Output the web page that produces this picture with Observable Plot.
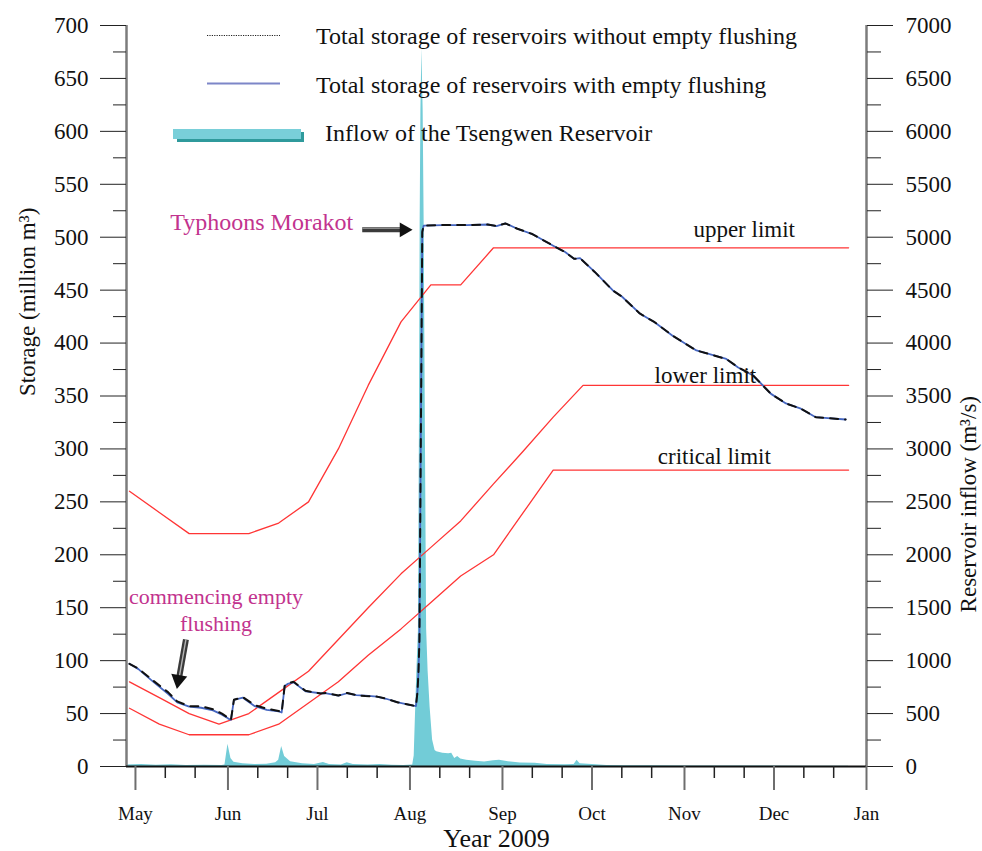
<!DOCTYPE html>
<html>
<head>
<meta charset="utf-8">
<script src="https://cdn.jsdelivr.net/npm/d3@7"></script>
<script src="https://cdn.jsdelivr.net/npm/@observablehq/plot@0.6"></script>
<style>
  html, body { margin: 0; padding: 0; background: #fff; }
  #chart { width: 982px; height: 851px; }
</style>
</head>
<body>
<div id="chart"></div>
<script>
// ---- Axis ticks -------------------------------------------------------
const storageTicks = [0, 50, 100, 150, 200, 250, 300, 350, 400, 450, 500, 550, 600, 650, 700];
const storageMinorTicks = [25, 75, 125, 175, 225, 275, 325, 375, 425, 475, 525, 575, 625, 675];
const inflowTickLabels = ["0", "500", "1000", "1500", "2000", "2500", "3000", "3500",
  "4000", "4500", "5000", "5500", "6000", "6500", "7000"];
const monthTickDates = ["2009-05-01", "2009-06-01", "2009-07-01", "2009-08-01", "2009-09-01",
  "2009-10-01", "2009-11-01", "2009-12-01", "2010-01-01"];
const monthTickLabels = ["May", "Jun", "Jul", "Aug", "Sep", "Oct", "Nov", "Dec", "Jan"];
const xDomain = ["2009-04-28", "2010-01-01"];

// ---- Rule curves (million m3), ten-day steps ---------------------------
const ruleDates = ["2009-04-29", "2009-05-09", "2009-05-19", "2009-05-29", "2009-06-08",
  "2009-06-18", "2009-06-28", "2009-07-08", "2009-07-18", "2009-07-29", "2009-08-08",
  "2009-08-18", "2009-08-29", "2009-09-08", "2009-09-18", "2009-09-28", "2009-12-26"];
const upperLimit    = [260, 240, 220, 220, 220, 230, 250, 300, 360, 420, 455, 455, 490, 490, 490, 490, 490];
const lowerLimit    = [80, 65, 50, 40, 50, 70, 90, 120, 150, 182, 207, 232, 267, 298, 330, 360, 360];
const criticalLimit = [55, 40, 30, 30, 30, 40, 60, 80, 105, 130, 155, 180, 200, 240, 280, 280, 280];

// ---- Total storage of reservoirs (million m3) ---------------------------
const storageDates = ["2009-04-29", "2009-05-02", "2009-05-07", "2009-05-12", "2009-05-15",
  "2009-05-19", "2009-05-23", "2009-05-27", "2009-05-30", "2009-06-01", "2009-06-02",
  "2009-06-03", "2009-06-06", "2009-06-10", "2009-06-14", "2009-06-18", "2009-06-19",
  "2009-06-20", "2009-06-21", "2009-06-23", "2009-06-27", "2009-07-02", "2009-07-04",
  "2009-07-08", "2009-07-11", "2009-07-14", "2009-07-17", "2009-07-21", "2009-07-24",
  "2009-07-28", "2009-08-02", "2009-08-03T00:00", "2009-08-03T12:00", "2009-08-03T20:00",
  "2009-08-04T04:00", "2009-08-05T03:00", "2009-08-05T14:00", "2009-08-12", "2009-08-20",
  "2009-08-27", "2009-08-30", "2009-09-02", "2009-09-06", "2009-09-11", "2009-09-18",
  "2009-09-22", "2009-09-25", "2009-09-27", "2009-10-02", "2009-10-08", "2009-10-11",
  "2009-10-17", "2009-10-22", "2009-10-28", "2009-11-05", "2009-11-10", "2009-11-15",
  "2009-11-19", "2009-11-24", "2009-11-30", "2009-12-05", "2009-12-10", "2009-12-15",
  "2009-12-18", "2009-12-25"];
const storageWithFlushing = [97, 92, 80, 68.5, 60.5,
  56.5, 55.5, 53, 49, 45.5, 44,
  63, 65, 57, 53.5, 52, 51,
  76, 78, 79.5, 71, 69.2, 69,
  67, 69.2, 67.5, 67, 66, 64,
  60.5, 57.6, 57, 70, 88,
  119, 505, 511, 511.5, 511.5,
  512, 510.5, 513, 508, 503, 492,
  486, 479.6, 480.2, 467, 449.7, 444,
  428, 419.7, 407, 393, 389, 385,
  377, 369.4, 352, 343, 338, 330,
  329.4, 327.8];
const storageWithoutFlushing = [97, 92.5, 81, 70, 61.5,
  57, 57, 54, 50, 46, 44,
  63, 65.5, 58, 54.5, 52.5, 51,
  76, 78.5, 80, 71.5, 69, 69.5,
  67, 69.5, 67.5, 66.5, 66, 64,
  60.5, 57.6, 57, 70, 88,
  119, 505, 511, 511.5, 511.5,
  512, 510.5, 513, 508, 503, 492,
  486, 479.6, 480.2, 467, 449.7, 444,
  428, 419.7, 407, 393, 389, 385,
  377, 369.4, 352, 343, 338, 330,
  329.4, 327.8];

// ---- Inflow of the Tsengwen Reservoir (m3/s) -----------------------------
const inflowDates = ["2009-04-28", "2009-05-03", "2009-05-08", "2009-05-13", "2009-05-18",
  "2009-05-24", "2009-05-30", "2009-05-31", "2009-06-01", "2009-06-02", "2009-06-03",
  "2009-06-06", "2009-06-10", "2009-06-14", "2009-06-17", "2009-06-18", "2009-06-19",
  "2009-06-20", "2009-06-22", "2009-06-26", "2009-06-30", "2009-07-03", "2009-07-05",
  "2009-07-09", "2009-07-11", "2009-07-13", "2009-07-18", "2009-07-22", "2009-07-26",
  "2009-07-30", "2009-08-01T22:00", "2009-08-02T10:00", "2009-08-02T18:00",
  "2009-08-03T07:00", "2009-08-03T20:00", "2009-08-04T04:00", "2009-08-04T10:00",
  "2009-08-04T16:00", "2009-08-05T00:00", "2009-08-05T10:00", "2009-08-05T18:00",
  "2009-08-06T04:00", "2009-08-06T14:00", "2009-08-07T02:00", "2009-08-07T18:00",
  "2009-08-08T14:00", "2009-08-09T10:00", "2009-08-10", "2009-08-12", "2009-08-14",
  "2009-08-15", "2009-08-16", "2009-08-17", "2009-08-18", "2009-08-20", "2009-08-23",
  "2009-08-26", "2009-08-29", "2009-08-31", "2009-09-03", "2009-09-07", "2009-09-12",
  "2009-09-16", "2009-09-22", "2009-09-25", "2009-09-26", "2009-09-27", "2009-10-01",
  "2009-10-06", "2009-10-12", "2009-10-20", "2009-11-01", "2009-11-20", "2009-12-10",
  "2009-12-26"];
const inflowValues = [15, 18, 12, 16, 10,
  12, 10, 15, 210, 75, 40,
  25, 18, 22, 35, 60, 190,
  95, 45, 25, 20, 38, 18,
  15, 35, 18, 14, 20, 12,
  10, 15, 100, 400,
  880, 1280, 3170, 5150,
  6200, 6780, 6200, 5150,
  3170, 1300, 900, 560,
  250, 150, 140, 125, 120,
  125, 75, 95, 70, 60, 50,
  42, 55, 60, 45, 32, 30,
  18, 16, 18, 60, 25, 18,
  10, 8, 6, 5, 4, 3,
  3];

// ---- Annotations ---------------------------------------------------------
const limitLabels = [
  {date: "2009-11-21", value: 507, text: "upper limit"},
  {date: "2009-11-08", value: 369, text: "lower limit"},
  {date: "2009-11-11", value: 293, text: "critical limit"}
];
const morakotNote = {date: "2009-07-13", value: 514, text: "Typhoons Morakot",
  arrowFrom: "2009-07-16", arrowTo: "2009-07-29", head: "2009-07-30", arrowValue: 507};
const flushingNote = {date: "2009-05-28", value: 149, text: "commencing empty\nflushing",
  arrowFrom: "2009-05-17T22:00", fromValue: 120, arrowTo: "2009-05-15T17:00", toValue: 85,
  head: "2009-05-15T10:00", headValue: 82};

// ---- Helpers -------------------------------------------------------------
const toDate = s => new Date(s.length === 10 ? s + "T00:00:00Z" : s + ":00Z");
const monthLabelOf = new Map(monthTickDates.map((s, i) => [+toDate(s), monthTickLabels[i]]));
const inflowLabelOf = new Map(storageTicks.map((v, i) => [v, inflowTickLabels[i]]));
const minorDayTicks = monthTickDates.slice(0, -1).flatMap(s => [s.slice(0, 8) + "11", s.slice(0, 8) + "21"]);

const rules = ruleDates.map((d, i) => ({date: toDate(d), upper: upperLimit[i], lower: lowerLimit[i], critical: criticalLimit[i]}));
const storage = storageDates.map((d, i) => ({date: toDate(d), withF: storageWithFlushing[i], withoutF: storageWithoutFlushing[i]}));
const inflow = inflowDates.map((d, i) => ({date: toDate(d), q: inflowValues[i]}));

const serif = "'Liberation Serif', 'Times New Roman', 'DejaVu Serif', serif";
const magenta = "#c2338e";
const red = "#ff3535";

const plot = Plot.plot({
  width: 982,
  height: 851,
  marginLeft: 126,
  marginRight: 116,
  marginTop: 25,
  marginBottom: 85,
  style: {fontFamily: serif, background: "#fff", color: "#111", overflow: "visible"},
  x: {type: "utc", domain: xDomain.map(toDate), label: null},
  y: {domain: [0, 700], label: null},
  marks: [
    // inflow, plotted on the storage scale at one tenth
    Plot.areaY(inflow, {x: "date", y: d => d.q / 10, fill: "#72ccd7", curve: "linear"}),

    // rule curves
    Plot.line(rules, {x: "date", y: "upper", stroke: red, strokeWidth: 1.3}),
    Plot.line(rules, {x: "date", y: "lower", stroke: red, strokeWidth: 1.3}),
    Plot.line(rules, {x: "date", y: "critical", stroke: red, strokeWidth: 1.3}),

    // storage series
    Plot.line(storage, {x: "date", y: "withF", stroke: "#4566c0", strokeWidth: 1.8}),
    Plot.line(storage, {x: "date", y: "withoutF", stroke: "#111", strokeWidth: 2, strokeDasharray: "8,7"}),

    // frame lines
    Plot.ruleX([toDate(xDomain[0]), toDate(xDomain[1])], {stroke: "#7c7c7c", strokeWidth: 2.5}),
    Plot.ruleY([0], {stroke: "#111", strokeWidth: 1.8}),

    // left axis
    Plot.axisY(storageTicks, {anchor: "left", tickSize: 26, tickPadding: 12, fontSize: 23,
      color: "#111", stroke: "#222", tickFormat: d => String(d), label: null}),
    Plot.axisY(storageMinorTicks, {anchor: "left", tickSize: 13, stroke: "#222", fill: null, label: null}),

    // right axis (inflow, m3/s)
    Plot.axisY(storageTicks, {anchor: "right", tickSize: 26, tickPadding: 13, fontSize: 23,
      color: "#111", stroke: "#222", tickFormat: d => inflowLabelOf.get(d), label: null}),
    Plot.axisY(storageMinorTicks, {anchor: "right", tickSize: 14, stroke: "#222", fill: null, label: null}),

    // bottom axis
    Plot.axisX(monthTickDates.map(toDate), {anchor: "bottom", tickSize: 24, tickPadding: 16, fontSize: 19,
      color: "#111", stroke: "#6e6e6e", strokeWidth: 2, tickFormat: d => monthLabelOf.get(+d), label: null}),
    Plot.axisX(minorDayTicks.map(toDate), {anchor: "bottom", tickSize: 12, stroke: "#222", strokeWidth: 1.5,
      fill: null, label: null}),

    // axis titles
    Plot.text(["Year 2009"], {text: d => d, frameAnchor: "bottom", dy: 72, lineAnchor: "middle", fontSize: 26, fill: "#111"}),
    Plot.text(["Storage (million m³)"], {text: d => d, frameAnchor: "left", dx: -99, rotate: -90, fontSize: 23, fill: "#111"}),
    Plot.text(["Reservoir inflow (m³/s)"], {text: d => d, frameAnchor: "right", dx: 102, rotate: -90, fontSize: 23, fill: "#111"}),

    // limit labels
    Plot.text(limitLabels, {x: d => toDate(d.date), y: "value", text: "text", fontSize: 23, fill: "#111"}),

    // Typhoon Morakot note
    Plot.text([morakotNote], {x: d => toDate(d.date), y: "value", text: "text", textAnchor: "end", fontSize: 24, fill: magenta}),
    Plot.link([morakotNote], {x1: d => toDate(d.arrowFrom), x2: d => toDate(d.arrowTo), y1: "arrowValue", y2: "arrowValue",
      stroke: "#3a3a3a", strokeWidth: 5}),
    Plot.link([morakotNote], {x1: d => toDate(d.arrowFrom), x2: d => toDate(d.arrowTo), y1: "arrowValue", y2: "arrowValue",
      stroke: "#8a8a8a", strokeWidth: 1.2, dy: -1.5}),
    Plot.dot([morakotNote], {x: d => toDate(d.head), y: "arrowValue", symbol: "triangle", r: 5.5, fill: "#111", rotate: 90}),

    // empty flushing note
    Plot.text([flushingNote], {x: d => toDate(d.date), y: "value", text: "text", fontSize: 22, lineHeight: 1.25, fill: magenta}),
    Plot.link([flushingNote], {x1: d => toDate(d.arrowFrom), x2: d => toDate(d.arrowTo), y1: "fromValue", y2: "toValue",
      stroke: "#3a3a3a", strokeWidth: 6}),
    Plot.link([flushingNote], {x1: d => toDate(d.arrowFrom), x2: d => toDate(d.arrowTo), y1: "fromValue", y2: "toValue",
      stroke: "#b5b5b5", strokeWidth: 1.4}),
    Plot.dot([flushingNote], {x: d => toDate(d.head), y: "headValue", symbol: "triangle", r: 6, fill: "#111", rotate: 189.7})
  ]
});

// legend, drawn inside the upper part of the frame
const svg = d3.select(plot);
const legend = svg.append("g").attr("font-family", serif).attr("font-size", 24)
  .attr("fill", "#111").attr("text-anchor", "start");
legend.append("line").attr("x1", 207).attr("x2", 280).attr("y1", 35.5).attr("y2", 35.5)
  .attr("stroke", "#222").attr("stroke-width", 1).attr("stroke-dasharray", "1.2,1.2");
legend.append("text").attr("x", 316).attr("y", 44).text("Total storage of reservoirs without empty flushing");
legend.append("line").attr("x1", 207).attr("x2", 280).attr("y1", 83.5).attr("y2", 83.5)
  .attr("stroke", "#7d86c8").attr("stroke-width", 1.8);
legend.append("text").attr("x", 316).attr("y", 93).text("Total storage of reservoirs with empty flushing");
legend.append("rect").attr("x", 177).attr("y", 132).attr("width", 127).attr("height", 10).attr("fill", "#2f9a9c");
legend.append("rect").attr("x", 173).attr("y", 129).attr("width", 128).attr("height", 10).attr("fill", "#79cfd9");
legend.append("text").attr("x", 325).attr("y", 140.5).text("Inflow of the Tsengwen Reservoir");

document.getElementById("chart").appendChild(plot);
</script>
</body>
</html>
